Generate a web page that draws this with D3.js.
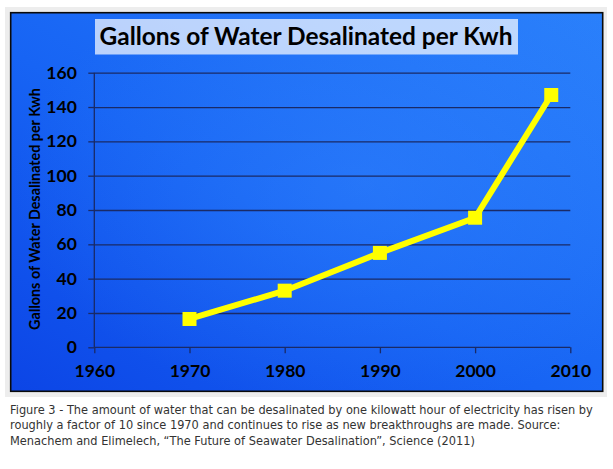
<!DOCTYPE html>
<html>
<head>
<meta charset="utf-8">
<script src="https://cdn.jsdelivr.net/npm/d3@7"></script>
<style>
  html, body { margin: 0; padding: 0; background: #ffffff; }
  svg { display: block; }
</style>
</head>
<body>
<svg id="chart" width="613" height="469"></svg>
<script>
// ---- data ----
const years = [1970, 1980, 1990, 2000, 2008];
const gallonsPerKwh = [16.5, 33, 55, 75.5, 147];
const xTicks = [1960, 1970, 1980, 1990, 2000, 2010];
const yTicks = [0, 20, 40, 60, 80, 100, 120, 140, 160];
const titleText = "Gallons of Water Desalinated per Kwh";
const yLabelText = "Gallons of Water Desalinated per Kwh";
const captionLines = [
  "Figure 3 - The amount of water that can be desalinated by one kilowatt hour of electricity has risen by",
  "roughly a factor of 10 since 1970 and continues to rise as new breakthroughs are made. Source:",
  "Menachem and Elimelech, \u201CThe Future of Seawater Desalination\u201D, Science (2011)"
];

const svg = d3.select("#chart");
const defs = svg.append("defs");

// background gradients
const lg = defs.append("linearGradient").attr("id", "bg").attr("x1", "0").attr("y1", "1").attr("x2", "1").attr("y2", "0");
lg.append("stop").attr("offset", "0%").attr("stop-color", "#0c45e6");
lg.append("stop").attr("offset", "45%").attr("stop-color", "#1764f4");
lg.append("stop").attr("offset", "100%").attr("stop-color", "#2a80fb");
const rg = defs.append("radialGradient").attr("id", "glow").attr("cx", "0.6").attr("cy", "0.45").attr("r", "0.6");
rg.append("stop").attr("offset", "0%").attr("stop-color", "#3a8cff").attr("stop-opacity", 0.35);
rg.append("stop").attr("offset", "100%").attr("stop-color", "#3a8cff").attr("stop-opacity", 0);

// outer light frame
svg.append("rect").attr("x", 5).attr("y", 7).attr("width", 602).attr("height", 390).attr("fill", "#ededed");
// chart box
svg.append("rect").attr("x", 10.7).attr("y", 12.7).attr("width", 592).attr("height", 378.6)
  .attr("fill", "url(#bg)").attr("stroke", "#0a0a0a").attr("stroke-width", 1.6);
svg.append("rect").attr("x", 11.5).attr("y", 13.5).attr("width", 590.4).attr("height", 377)
  .attr("fill", "url(#glow)");

function fitText(sel, target) {
  const fs = parseFloat(sel.attr("font-size"));
  const w = sel.node().getComputedTextLength();
  if (w > 0) sel.attr("font-size", (fs * target / w).toFixed(2));
}

// title box
svg.append("rect").attr("x", 95).attr("y", 19).attr("width", 423).attr("height", 35.5)
  .attr("fill", "#ffffff").attr("fill-opacity", 0.7);
const title = svg.append("text").attr("x", 306).attr("y", 45)
  .attr("text-anchor", "middle").attr("font-family", "Lato, 'Open Sans', sans-serif")
  .attr("font-weight", "bold").attr("font-size", 24).attr("fill", "#000")
  .text(titleText);
fitText(title, 413);

// scales
const x = d3.scaleLinear().domain([1960, 2010]).range([94.3, 570.3]);
const y = d3.scaleLinear().domain([0, 160]).range([347.3, 72.7]);

const gridColor = "#1a2a66";

// gridlines (y axis with ticks extending left)
const yAxis = d3.axisLeft(y).tickValues(yTicks).tickSize(6).tickFormat(d3.format("d"));
const gy = svg.append("g").attr("transform", `translate(${x(1960)},0)`).call(yAxis);
gy.select(".domain").attr("stroke", gridColor).attr("stroke-width", 1.3).attr("d", `M0,${y(160)}V${y(0)}`);
gy.selectAll(".tick line").attr("stroke", gridColor).attr("stroke-width", 1.3);
gy.selectAll(".tick text").attr("x", -17.5).attr("font-family", "Lato, sans-serif")
  .attr("font-weight", "bold").attr("font-size", 17.5).attr("fill", "#000");
gy.selectAll(".tick").filter(d => d > 0).append("line")
  .attr("x1", 0).attr("x2", x(2010) - x(1960))
  .attr("stroke", gridColor).attr("stroke-width", 1.3);

// x axis
const xAxis = d3.axisBottom(x).tickValues(xTicks).tickSize(6).tickFormat(d3.format("d"));
const gx = svg.append("g").attr("transform", `translate(0,${y(0)})`).call(xAxis);
gx.select(".domain").attr("stroke", gridColor).attr("stroke-width", 1.3).attr("d", `M${x(1960)},0H${x(2010)}`);
gx.selectAll(".tick line").attr("stroke", gridColor).attr("stroke-width", 1.3);
gx.selectAll(".tick text").attr("y", 17).attr("dy", "0.71em").attr("font-family", "Lato, sans-serif")
  .attr("font-weight", "bold").attr("font-size", 17.5).attr("fill", "#000");

// y label
const yl = svg.append("text")
  .attr("transform", `translate(40,209) rotate(-90)`)
  .attr("text-anchor", "middle").attr("font-family", "Lato, sans-serif")
  .attr("font-weight", "bold").attr("font-size", 14).attr("fill", "#000")
  .text(yLabelText);
fitText(yl, 242);

// line + markers
const pts = years.map((yr, i) => ({ yr, v: gallonsPerKwh[i] }));
const line = d3.line().x(d => x(d.yr)).y(d => y(d.v));
svg.append("path").datum(pts).attr("d", line)
  .attr("fill", "none").attr("stroke", "#ffff00").attr("stroke-width", 6).attr("stroke-linejoin", "miter");
const ms = 14;
svg.selectAll("rect.marker").data(pts).enter().append("rect").attr("class", "marker")
  .attr("x", d => x(d.yr) - ms / 2).attr("y", d => y(d.v) - ms / 2)
  .attr("width", ms).attr("height", ms).attr("fill", "#ffff00");

// caption
const cap = svg.append("g").attr("font-family", "'DejaVu Sans', Verdana, sans-serif").attr("fill", "#333333");
const capTexts = cap.selectAll("text").data(captionLines).enter().append("text")
  .attr("x", 10).attr("y", (d, i) => 414 + i * 15.3)
  .attr("font-size", 12).text(d => d);
const w0 = capTexts.nodes()[0].getComputedTextLength();
const capSize = (12 * 583 / w0).toFixed(2);
capTexts.attr("font-size", capSize);
</script>
</body>
</html>
